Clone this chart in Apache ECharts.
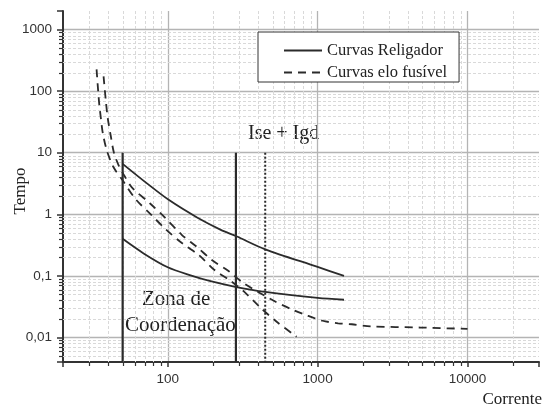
<!DOCTYPE html>
<html><head><meta charset="utf-8">
<script src="https://cdn.jsdelivr.net/npm/echarts@6/dist/echarts.min.js"></script>
<style>html,body{margin:0;padding:0;background:#fff}#c{width:548px;height:408px}</style>
</head><body><div id="c"></div>
<script>
// ---- axes ----
const xMin = 20, xMax = 30000, yMin = 0.004, yMax = 2000;
const xTickValues = [100, 1000, 10000];
const xTickLabels = ['100', '1000', '10000'];
const yTickValues = [0.01, 0.1, 1, 10, 100, 1000];
const yTickLabels = ['0,01', '0,1', '1', '10', '100', '1000'];
const minorMultipliers = [2, 3, 4, 5, 6, 7, 8, 9];
const xDecades = [10, 100, 1000, 10000];
const yDecades = [0.001, 0.01, 0.1, 1, 10, 100, 1000];

// ---- series ----
const seriesNames = ['Curvas Religador', 'Curvas elo fusível'];
const religadorRapida = [[50,0.40],[69,0.232],[100,0.138],[142,0.102],[193,0.082],[287,0.066],[447,0.055],[1000,0.044],[1500,0.041]];
const religadorLenta = [[50,6.6],[73,3.15],[102,1.7],[158,0.88],[226,0.56],[287,0.44],[447,0.27],[1000,0.14],[1500,0.1]];
const eloMinFusao = [[33.5,226],[34.8,66.5],[35.8,36],[36.9,20.6],[39.2,10.9],[43.4,5.86],[50,3.56],[61.2,1.75],[77,1.0],[97,0.57],[125,0.338],[162,0.216],[204,0.126],[263,0.083],[319,0.057],[417,0.0303],[533,0.018],[724,0.0103]];
const eloTotal = [[37.3,174],[38.6,71],[39.8,36],[41.7,18.5],[43.7,10.1],[47.1,6.2],[51.6,4.14],[58.4,2.64],[75.9,1.51],[95.5,0.89],[124,0.465],[156,0.297],[198,0.179],[253,0.121],[319,0.077],[517,0.0387],[671,0.0287],[845,0.0229],[1080,0.0187],[1370,0.017],[1690,0.0164],[2256,0.0152],[4860,0.0145],[10000,0.0138]];
// vertical limits
const zonaInicio = 50, zonaFim = 285, iseIgd = 447, verticalTop = 10;

function labelFor(v, vals, labs) {
  for (let i = 0; i < vals.length; i++) {
    if (Math.abs(Math.log10(v) - Math.log10(vals[i])) < 1e-6) return labs[i];
  }
  return '';
}
function minorList(decades, lo, hi) {
  const out = [];
  decades.forEach(d => minorMultipliers.forEach(m => { const v = d * m; if (v > lo * 1.0001 && v < hi * 0.9999) out.push(v); }));
  return out;
}
const xMinor = minorList(xDecades, xMin, xMax);
const yMinor = minorList(yDecades, yMin, yMax);

const serif = 'Liberation Serif';
const dark = '#2b2b2b';

function curve(name, data, dashed) {
  return {
    type: 'line', name: name, data: data, symbol: 'none', smooth: 0.3, z: 5,
    lineStyle: { color: dark, width: 1.8, type: dashed ? [8, 6] : 'solid' },
    itemStyle: { color: dark }
  };
}
function vline(name, x, lineType, width) {
  return {
    type: 'line', name: name, data: [[x, verticalTop], [x, yMin]], symbol: 'none', z: 6,
    lineStyle: { color: dark, width: width, type: lineType }
  };
}

const chart = echarts.init(document.getElementById('c'), null, { renderer: 'canvas' });
chart.setOption({
  animation: false,
  backgroundColor: '#fff',
  grid: { left: 63, right: 9, top: 11, bottom: 46 },
  legend: {
    data: seriesNames, orient: 'vertical', left: 258, top: 32,
    padding: [10, 12, 1, 25], itemGap: 5, itemWidth: 38, itemHeight: 12,
    backgroundColor: '#fff', borderColor: '#333', borderWidth: 1, borderRadius: 0,
    selectedMode: false,
    itemStyle: { opacity: 0 },
    lineStyle: { width: 2 },
    textStyle: { fontFamily: serif, fontSize: 16.5, color: '#222' }
  },
  xAxis: {
    type: 'log', logBase: 10, min: xMin, max: xMax,
    axisLine: { show: true, onZero: false, lineStyle: { color: '#333', width: 2 } },
    axisTick: { show: true, length: 5, lineStyle: { color: '#333', width: 1.5 } },
    axisLabel: { formatter: v => labelFor(v, xTickValues, xTickLabels), fontFamily: 'Liberation Sans', fontSize: 13.5, color: '#333', margin: 10 },
    splitLine: { show: true, showMinLine: false, showMaxLine: false, lineStyle: { color: '#b4b4b4', width: 1.3 } }
  },
  yAxis: {
    type: 'log', logBase: 10, min: yMin, max: yMax,
    axisLine: { show: true, onZero: false, lineStyle: { color: '#333', width: 2 } },
    axisTick: { show: true, length: 6, lineStyle: { color: '#333', width: 1.5 } },
    axisLabel: { formatter: v => labelFor(v, yTickValues, yTickLabels), fontFamily: 'Liberation Sans', fontSize: 13.5, color: '#333', margin: 11 },
    splitLine: { show: true, showMinLine: false, showMaxLine: false, lineStyle: { color: '#b4b4b4', width: 1.3 } }
  },
  graphic: [
    { type: 'text', x: 248, y: 134, style: { text: 'Ise + Igd', font: '20px "Liberation Serif"', fill: '#222', align: 'left', verticalAlign: 'middle', textAlign: 'left', textVerticalAlign: 'middle' } },
    { type: 'text', x: 142, y: 299, style: { text: 'Zona de', font: '21px "Liberation Serif"', fill: '#222', align: 'left', verticalAlign: 'middle', textAlign: 'left', textVerticalAlign: 'middle' } },
    { type: 'text', x: 125, y: 325, style: { text: 'Coordenação', font: '21px "Liberation Serif"', fill: '#222', align: 'left', verticalAlign: 'middle', textAlign: 'left', textVerticalAlign: 'middle' } },
    { type: 'text', x: 21, y: 191, rotation: Math.PI / 2, style: { text: 'Tempo', font: '17px "Liberation Serif"', fill: '#222', align: 'center', verticalAlign: 'middle', textAlign: 'center', textVerticalAlign: 'middle' } },
    { type: 'text', x: 542, y: 400, style: { text: 'Corrente', font: '17px "Liberation Serif"', fill: '#222', align: 'right', verticalAlign: 'middle', textAlign: 'right', textVerticalAlign: 'middle' } }
  ],
  series: [
    {
      type: 'custom', name: 'xminor', silent: true, clip: false, z: 1,
      data: xMinor.map(v => [v, 1]), encode: { x: 0, y: 1 },
      renderItem: (params, api) => {
        const cs = params.coordSys;
        const x = Math.round(api.coord([api.value(0), 1])[0]) + 0.5;
        const yb = cs.y + cs.height;
        return { type: 'group', children: [
          { type: 'line', shape: { x1: x, y1: cs.y, x2: x, y2: yb }, style: { stroke: '#d9d9d9', lineWidth: 1, lineDash: [3, 2] } },
          { type: 'line', shape: { x1: x, y1: yb, x2: x, y2: yb + 4 }, style: { stroke: '#333', lineWidth: 1.2 } }
        ] };
      }
    },
    {
      type: 'custom', name: 'yminor', silent: true, clip: false, z: 1,
      data: yMinor.map(v => [100, v]), encode: { x: 0, y: 1 },
      renderItem: (params, api) => {
        const cs = params.coordSys;
        const y = Math.round(api.coord([100, api.value(1)])[1]) + 0.5;
        return { type: 'group', children: [
          { type: 'line', shape: { x1: cs.x, y1: y, x2: cs.x + cs.width, y2: y }, style: { stroke: '#d9d9d9', lineWidth: 1, lineDash: [3, 2] } },
          { type: 'line', shape: { x1: cs.x - 4, y1: y, x2: cs.x, y2: y }, style: { stroke: '#333', lineWidth: 1.2 } }
        ] };
      }
    },
    curve(seriesNames[0], religadorLenta, false),
    curve(seriesNames[0], religadorRapida, false),
    curve(seriesNames[1], eloMinFusao, true),
    curve(seriesNames[1], eloTotal, true),
    vline('v1', zonaInicio, 'solid', 2.2),
    vline('v2', zonaFim, 'solid', 2.2),
    vline('v3', iseIgd, [2, 2], 2)
  ]
});
</script>
</body></html>
